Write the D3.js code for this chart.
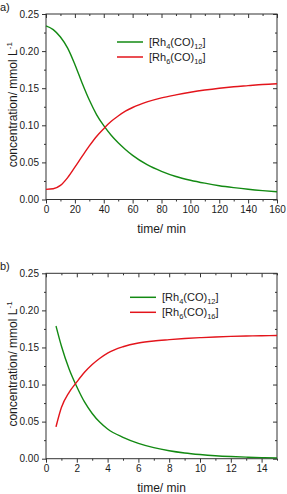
<!DOCTYPE html>
<html><head><meta charset="utf-8">
<script src="https://cdn.jsdelivr.net/npm/d3@7"></script>
<style>
html,body{margin:0;padding:0;background:#fff;}
svg text{font-family:"Liberation Sans",Arial,sans-serif;fill:#1a1a1a;}
</style></head>
<body><svg id="c" width="287" height="494"></svg>
<script>
// ---- data: panel a ----
const timeA = [0,5,10,15,20,25,30,35,40,45,50,55,60,70,80,90,100,110,120,130,140,150,160];
const rh4A  = [0.234,0.229,0.219,0.204,0.182,0.157,0.134,0.1145,0.0995,0.087,0.0765,0.0675,0.0595,0.047,0.038,0.031,0.026,0.022,0.0186,0.016,0.0138,0.012,0.0105];
const rh6A  = [0.0137,0.0145,0.019,0.0295,0.0435,0.058,0.0722,0.085,0.0955,0.105,0.1125,0.119,0.124,0.1315,0.137,0.141,0.1445,0.1475,0.150,0.152,0.1535,0.155,0.156];
// ---- data: panel b ----
const timeB = [0.65,1,1.5,2,2.5,3,3.5,4,5,6,7,8,9,10,11,12,13,14,15];
const rh4B  = [0.179,0.152,0.121,0.097,0.0765,0.061,0.049,0.040,0.0288,0.0207,0.0149,0.0107,0.0077,0.0056,0.004,0.0029,0.0021,0.0015,0.0011];
const rh6B  = [0.043,0.069,0.0895,0.1035,0.1165,0.127,0.1355,0.1425,0.151,0.156,0.1588,0.1605,0.162,0.1632,0.1642,0.1649,0.1654,0.1658,0.1662];
// ---- ticks / labels ----
const yMajor = [0,0.05,0.10,0.15,0.20,0.25];
const yMinor = [0.025,0.075,0.125,0.175,0.225];
const xMajorA = [0,20,40,60,80,100,120,140,160];
const xMinorA = [10,30,50,70,90,110,130,150];
const xMajorB = [0,2,4,6,8,10,12,14];
const xMinorB = [1,3,5,7,9,11,13,15];
const colors = ["#138a13","#e3141b"];

const svg = d3.select("#c");

function panel(o){
  const x = d3.scaleLinear().domain(o.xDomain).range([46,277]);
  const y = d3.scaleLinear().domain([0,0.25]).range([o.bottom,o.top]);
  const g = svg.append("g");
  const axisStyle = sel => { sel.select(".domain").remove(); sel.selectAll("line").attr("stroke","#333").attr("stroke-width",1); };
  // bottom
  g.append("g").attr("transform",`translate(0,${o.bottom})`)
    .call(d3.axisBottom(x).tickValues(o.xMajor).tickSize(4).tickPadding(4).tickFormat(d3.format("d")))
    .call(axisStyle).call(s=>s.selectAll("text").attr("font-size",10).attr("font-family",null).attr("y",6));
  g.append("g").attr("transform",`translate(0,${o.bottom})`)
    .call(d3.axisBottom(x).tickValues(o.xMinor).tickSize(2).tickFormat("")).call(axisStyle);
  // top (inward)
  g.append("g").attr("transform",`translate(0,${o.top})`)
    .call(d3.axisBottom(x).tickValues(o.xMajor).tickSize(4).tickFormat("")).call(axisStyle);
  g.append("g").attr("transform",`translate(0,${o.top})`)
    .call(d3.axisBottom(x).tickValues(o.xMinor).tickSize(2).tickFormat("")).call(axisStyle);
  // left
  g.append("g").attr("transform","translate(46,0)")
    .call(d3.axisLeft(y).tickValues(yMajor).tickSize(4).tickPadding(3).tickFormat(d3.format(".2f")))
    .call(axisStyle).call(s=>s.selectAll("text").attr("font-size",10).attr("font-family",null));
  g.append("g").attr("transform","translate(46,0)")
    .call(d3.axisLeft(y).tickValues(yMinor).tickSize(2).tickFormat("")).call(axisStyle);
  // right (inward)
  g.append("g").attr("transform","translate(277,0)")
    .call(d3.axisLeft(y).tickValues(yMajor).tickSize(4).tickFormat("")).call(axisStyle);
  g.append("g").attr("transform","translate(277,0)")
    .call(d3.axisLeft(y).tickValues(yMinor).tickSize(2).tickFormat("")).call(axisStyle);
  // frame
  g.append("rect").attr("x",46).attr("y",o.top).attr("width",231).attr("height",o.bottom-o.top)
    .attr("fill","none").attr("stroke","#333").attr("stroke-width",1);
  // lines
  const line = d3.line().x(d=>x(d[0])).y(d=>y(d[1])).curve(d3.curveMonotoneX);
  [o.s1,o.s2].forEach((s,i)=>{
    g.append("path").datum(o.t.map((t,j)=>[t,s[j]]))
      .attr("d",line).attr("fill","none").attr("stroke",colors[i]).attr("stroke-width",1.4);
  });
  // legend
  const subs = [["4","12"],["6","16"]];
  [0,1].forEach(i=>{
    const ly = o.legY + i*15;
    g.append("line").attr("x1",o.legX).attr("x2",o.legX+26).attr("y1",ly).attr("y2",ly)
      .attr("stroke",colors[i]).attr("stroke-width",1.5);
    const t = g.append("text").attr("x",o.legX+32).attr("y",ly+4).attr("font-size",11);
    t.append("tspan").text("[Rh");
    t.append("tspan").attr("font-size",7.5).attr("dy",3).text(subs[i][0]);
    t.append("tspan").attr("dy",-3).text("(CO)");
    t.append("tspan").attr("font-size",7.5).attr("dy",3).text(subs[i][1]);
    t.append("tspan").attr("dy",-3).text("]");
  });
  // axis titles
  g.append("text").attr("x",161.5).attr("y",o.bottom+33).attr("text-anchor","middle")
    .attr("font-size",12).text("time/ min");
  const yt = g.append("text").attr("transform",`translate(17,${(o.top+o.bottom)/2-2}) rotate(-90)`)
    .attr("text-anchor","middle").attr("font-size",12);
  yt.append("tspan").text("concentration/ mmol L");
  yt.append("tspan").attr("font-size",8).attr("dy",-5).text("-1");
  // panel label
  g.append("text").attr("x",0).attr("y",o.top-3.5).attr("font-size",11).text(o.label);
}

panel({xDomain:[0,160], xMajor:xMajorA, xMinor:xMinorA, top:14, bottom:199.5,
  t:timeA, s1:rh4A, s2:rh6A, legX:117, legY:42, label:"a)"});
panel({xDomain:[0,15], xMajor:xMajorB, xMinor:xMinorB, top:273.3, bottom:458.7,
  t:timeB, s1:rh4B, s2:rh6B, legX:130, legY:297.3, label:"b)"});
</script></body></html>
